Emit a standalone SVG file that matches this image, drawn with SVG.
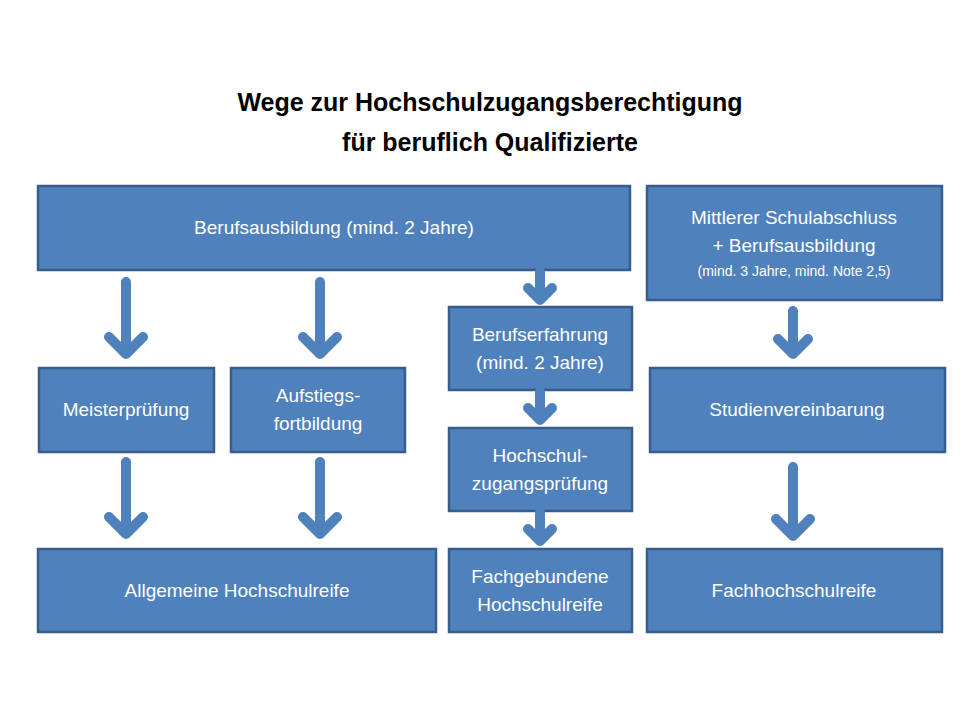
<svg xmlns="http://www.w3.org/2000/svg" width="960" height="720" viewBox="0 0 960 720">
<style>
.b{fill:#4f81bd;stroke:#385d8a;stroke-width:2.5}
.t{fill:#fff;font-family:"Liberation Sans",Arial,sans-serif;font-size:19px;text-anchor:middle}
.s{font-size:14px}
.h{font-family:"Liberation Sans",Arial,sans-serif;font-size:25px;font-weight:bold;text-anchor:middle;fill:#000}
.a{fill:none;stroke:#4f81bd;stroke-width:10;stroke-linecap:round;stroke-linejoin:round}
</style>
<rect width="960" height="720" fill="#fff"/>
<text class="h" x="490" y="111">Wege zur Hochschulzugangsberechtigung</text>
<text class="h" x="490" y="151">für beruflich Qualifizierte</text>
<g id="n1"><rect class="b" x="38" y="186" width="592" height="84"/><text class="t" x="334" y="234">Berufsausbildung (mind. 2 Jahre)</text></g>
<g id="n2"><rect class="b" x="647" y="186" width="295" height="114"/><text class="t" x="794" y="224">Mittlerer Schulabschluss</text><text class="t" x="794" y="252">+ Berufsausbildung</text><text class="t s" x="794" y="276">(mind. 3 Jahre, mind. Note 2,5)</text></g>
<g id="n3"><rect class="b" x="39" y="368" width="175" height="84"/><text class="t" x="126" y="416">Meisterprüfung</text></g>
<g id="n4"><rect class="b" x="231" y="368" width="174" height="84"/><text class="t" x="318" y="402">Aufstiegs-</text><text class="t" x="318" y="430">fortbildung</text></g>
<g id="n5"><rect class="b" x="449" y="307" width="183" height="83"/><text class="t" x="540" y="341">Berufserfahrung</text><text class="t" x="540" y="369">(mind. 2 Jahre)</text></g>
<g id="n6"><rect class="b" x="449" y="428" width="183" height="83"/><text class="t" x="540" y="462">Hochschul-</text><text class="t" x="540" y="490">zugangsprüfung</text></g>
<g id="n7"><rect class="b" x="650" y="368" width="295" height="84"/><text class="t" x="797" y="416">Studienvereinbarung</text></g>
<g id="n8"><rect class="b" x="38" y="549" width="398" height="83"/><text class="t" x="237" y="597">Allgemeine Hochschulreife</text></g>
<g id="n9"><rect class="b" x="449" y="549" width="183" height="83"/><text class="t" x="540" y="583">Fachgebundene</text><text class="t" x="540" y="611">Hochschulreife</text></g>
<g id="n10"><rect class="b" x="647" y="549" width="295" height="83"/><text class="t" x="794" y="597">Fachhochschulreife</text></g>
<g id="connectors" class="a">
<path d="M126 282V354M109 337L126 354L143 337"/>
<path d="M320 282V354M303 337L320 354L337 337"/>
<path d="M540 272V300M528 288L540 300L552 288"/>
<path d="M540 392V420M528 408L540 420L552 408"/>
<path d="M540 513V541M528 529L540 541L552 529"/>
<path d="M793 311V354M778 339L793 354L808 339"/>
<path d="M126 462V534M109 517L126 534L143 517"/>
<path d="M320 462V534M303 517L320 534L337 517"/>
<path d="M793 467V536M776 519L793 536L810 519"/>
</g>
</svg>
